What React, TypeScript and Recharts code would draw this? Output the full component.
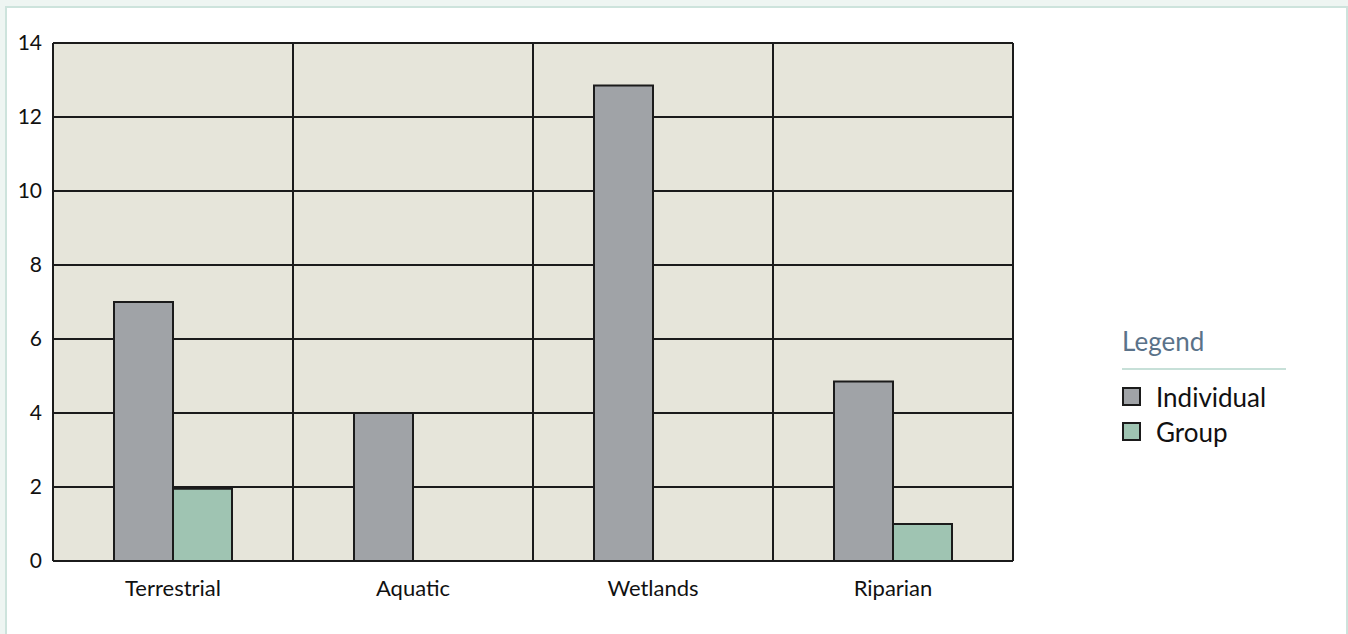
import {
  Bar,
  BarChart,
  CartesianGrid,
  Legend,
  XAxis,
  YAxis,
} from "recharts";

const categories = ["Terrestrial", "Aquatic", "Wetlands", "Riparian"];
const individual = [7, 4, 12.85, 4.85];
const group = [1.95, 0, 0, 1];
const yTicks = [0, 2, 4, 6, 8, 10, 12, 14];

const seriesInfo = [
  { key: "individual", name: "Individual", color: "#a0a3a7" },
  { key: "group", name: "Group", color: "#9fc4b2" },
];

const data = categories.map((name, i) => ({
  name,
  individual: individual[i],
  group: group[i],
}));

const FONT = "Lato, 'Open Sans', sans-serif";
const INK = "#1b1b1b";

function LegendBox() {
  return (
    <div style={{ fontFamily: FONT, width: 164 }}>
      <div
        style={{
          color: "#5a7289",
          fontSize: 26,
          lineHeight: "30px",
          paddingBottom: 12,
          borderBottom: "2px solid #c7e0d8",
          marginBottom: 9,
        }}
      >
        Legend
      </div>
      {seriesInfo.map((s) => (
        <div
          key={s.key}
          style={{
            display: "flex",
            alignItems: "center",
            height: 35,
            fontSize: 26,
            color: "#111",
          }}
        >
          <span
            style={{
              display: "inline-block",
              width: 15,
              height: 15,
              background: s.color,
              border: `2px solid ${INK}`,
              marginRight: 15,
            }}
          />
          {s.name}
        </div>
      ))}
    </div>
  );
}

export default function App() {
  return (
    <div
      style={{
        position: "absolute",
        left: 0,
        top: 0,
        width: 1348,
        height: 634,
        background: "#eef5f2",
        overflow: "hidden",
      }}
    >
      <div
        style={{
          position: "absolute",
          left: 5,
          top: 6,
          width: 1339,
          height: 700,
          background: "#fff",
          border: "2px solid #cde3dc",
        }}
      />
      <div style={{ position: "absolute", left: 0, top: 0 }}>
        <BarChart
          width={1348}
          height={634}
          data={data}
          margin={{ top: 43, right: 335, bottom: 43, left: 0 }}
          barCategoryGap={61}
          barGap={0}
        >
          <CartesianGrid
            fill="#e6e5da"
            fillOpacity={1}
            stroke={INK}
            strokeWidth={2}
            verticalCoordinatesGenerator={({ offset }: any) =>
              categories
                .map((_, i) => offset.left + (i * offset.width) / categories.length)
                .concat(offset.left + offset.width)
            }
          />
          <XAxis
            dataKey="name"
            axisLine={false}
            tickLine={false}
            tickSize={0}
            tickMargin={19}
            height={30}
            tick={{ fill: "#111", fontSize: 22, fontFamily: FONT }}
          />
          <YAxis
            domain={[0, 14]}
            ticks={yTicks}
            axisLine={false}
            tickLine={false}
            tickSize={0}
            tickMargin={11}
            width={53}
            tick={{ fill: "#111", fontSize: 21, fontFamily: FONT }}
          />
          <Legend
            layout="vertical"
            align="center"
            verticalAlign="middle"
            wrapperStyle={{ left: 1122, top: 326, width: 164 }}
            content={() => <LegendBox />}
          />
          {seriesInfo.map((s) => (
            <Bar
              key={s.key}
              dataKey={s.key}
              name={s.name}
              fill={s.color}
              stroke={INK}
              strokeWidth={2}
              isAnimationActive={false}
            />
          ))}
        </BarChart>
      </div>
    </div>
  );
}
